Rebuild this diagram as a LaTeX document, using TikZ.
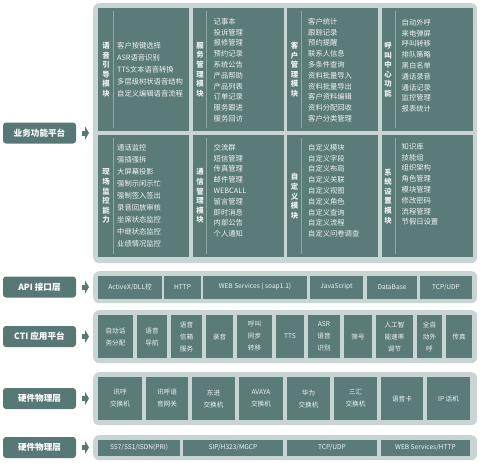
\documentclass[tikz,border=0pt]{standalone}
\usepackage{fontspec}
\setmainfont{Noto Sans CJK SC}
\usetikzlibrary{arrows.meta}
\definecolor{darkteal}{HTML}{5B7B79}
\definecolor{labelteal}{HTML}{587876}
\definecolor{panelgray}{HTML}{C9D5D3}
\definecolor{sepgray}{HTML}{92A8A6}
\definecolor{itemwhite}{HTML}{EEF3F2}

\begin{document}
\begin{tikzpicture}[x=1pt, y=-1pt,
  panel/.style={fill=panelgray, rounded corners=6pt, inner sep=0pt, anchor=north west},
  module/.style={fill=darkteal, minimum width=91pt, inner sep=0pt, anchor=north west},
  mtitle/.style={text=itemwhite, align=center, inner sep=0pt, font=\fontsize{7.4}{9.6}\selectfont\bfseries},
  items/.style={text=itemwhite, align=left, inner sep=0pt, anchor=north west, font=\fontsize{7.3}{10.8}\selectfont},
  wide/.style={font=\fontsize{7.3}{12}\selectfont},
  sepline/.style={sepgray, line width=0.6pt},
  layer/.style={fill=labelteal, rounded corners=3pt, minimum width=73pt, minimum height=21pt, text=white, font=\fontsize{8.6}{10}\selectfont\bfseries},
  cell/.style={fill=darkteal, text=itemwhite, align=center, inner sep=0pt, font=\fontsize{6.6}{12}\selectfont},
  feed/.style={labelteal, line width=5pt, -{Triangle[length=4pt, width=13pt]}, shorten <=6pt, shorten >=4pt}]
  \useasboundingbox (0,0) rectangle (480,463);

  % layer labels on the left
  \node[layer] (bizlab) at (39.5,133) {业务功能平台};
  \node[layer] (apilab) at (39.5,287) {API 接口层};
  \node[layer] (ctilab) at (39.5,336.5) {CTI 应用平台};
  \node[layer] (hwlab) at (39.5,398.5) {硬件物理层};
  \node[layer] (netlab) at (39.5,447.5) {硬件物理层};

  % grey panels
  \node[panel, minimum width=384pt, minimum height=260pt] (biz) at (93,3) {};
  \node[panel, minimum width=384pt, minimum height=32pt] (api) at (93,271) {};
  \node[panel, minimum width=384pt, minimum height=53pt] (cti) at (93,310) {};
  \node[panel, minimum width=384pt, minimum height=53pt] (hw) at (93,372) {};
  \node[panel, minimum width=384pt, minimum height=25pt] (net) at (93,435) {};

  \draw[feed] (bizlab.east) -- (bizlab.east -| biz.west);
  \draw[feed] (apilab.east) -- (apilab.east -| api.west);
  \draw[feed] (ctilab.east) -- (ctilab.east -| cti.west);
  \draw[feed] (hwlab.east) -- (hwlab.east -| hw.west);
  \draw[feed] (netlab.east) -- (netlab.east -| net.west);

  % business modules, first row
  \node[module, minimum height=123pt] (voice) at (98,8) {};
  \node[module, minimum height=123pt] (service) at (192.5,8) {};
  \node[module, minimum height=123pt] (customer) at (287,8) {};
  \node[module, minimum height=123pt] (callctr) at (381.5,8) {};
  % second row
  \node[module, minimum height=122pt] (monitor) at (98,135) {};
  \node[module, minimum height=122pt] (comm) at (192.5,135) {};
  \node[module, minimum height=122pt] (custom) at (287,135) {};
  \node[module, minimum height=122pt] (system) at (381.5,135) {};

  \draw[sepline] ([xshift=15pt,yshift=-3pt]voice.north west) -- ([xshift=15pt,yshift=3pt]voice.south west);
  \draw[sepline] ([xshift=14pt,yshift=-3pt]service.north west) -- ([xshift=14pt,yshift=3pt]service.south west);
  \draw[sepline] ([xshift=14pt,yshift=-3pt]customer.north west) -- ([xshift=14pt,yshift=3pt]customer.south west);
  \draw[sepline] ([xshift=14pt,yshift=-3pt]callctr.north west) -- ([xshift=14pt,yshift=3pt]callctr.south west);
  \draw[sepline] ([xshift=15pt,yshift=-3pt]monitor.north west) -- ([xshift=15pt,yshift=3pt]monitor.south west);
  \draw[sepline] ([xshift=14pt,yshift=-3pt]comm.north west) -- ([xshift=14pt,yshift=3pt]comm.south west);
  \draw[sepline] ([xshift=14pt,yshift=-3pt]custom.north west) -- ([xshift=14pt,yshift=3pt]custom.south west);
  \draw[sepline] ([xshift=14pt,yshift=-3pt]system.north west) -- ([xshift=14pt,yshift=3pt]system.south west);

  \node[mtitle] (voicet) at ([xshift=8pt]voice.west) {语\\音\\引\\导\\模\\块};
  \node[mtitle] (servicet) at ([xshift=7.5pt]service.west) {服\\务\\管\\理\\模\\块};
  \node[mtitle] (customert) at ([xshift=7.5pt]customer.west) {客\\户\\管\\理\\模\\块};
  \node[mtitle] (callctrt) at ([xshift=6.5pt]callctr.west) {呼\\叫\\中\\心\\功\\能};
  \node[mtitle] (monitort) at ([xshift=8pt]monitor.west) {现\\场\\监\\控\\能\\力};
  \node[mtitle] (commt) at ([xshift=7.5pt]comm.west) {通\\信\\管\\理\\模\\块};
  \node[mtitle] (customt) at ([xshift=7.5pt]custom.west) {自\\定\\义\\模\\块};
  \node[mtitle] (systemt) at ([xshift=6.5pt]system.west) {系\\统\\设\\置\\模\\块};

  \node[items, wide, anchor=west] (voicei) at ([xshift=19pt]voice.west)
    {客户按键选择\\ASR语音识别\\TTS文本语音转换\\多层级树状语音结构\\自定义编辑语音流程};
  \node[items] (servicei) at ([xshift=21pt,yshift=-10pt]service.north west)
    {记事本\\投诉管理\\报修管理\\预约记录\\系统公告\\产品帮助\\产品列表\\订单记录\\服务跟进\\服务回访};
  \node[items] (customeri) at ([xshift=21pt,yshift=-10pt]customer.north west)
    {客户统计\\跟踪记录\\预约提醒\\联系人信息\\多条件查询\\资料批量导入\\资料批量导出\\客户资料编辑\\资料分配回收\\客户分类管理};
  \node[items] (callctri) at ([xshift=20pt,yshift=-11pt]callctr.north west)
    {自动外呼\\来电弹屏\\呼叫转移\\排队策略\\黑白名单\\通话录音\\通话记录\\监控管理\\报表统计};
  \node[items, wide] (monitori) at ([xshift=19pt,yshift=-9pt]monitor.north west)
    {通话监控\\强插强拆\\大屏幕投影\\强制示闲示忙\\强制签入签出\\录音回放审核\\坐席状态监控\\中继状态监控\\业绩情况监控};
  \node[items] (commi) at ([xshift=21pt,yshift=-9pt]comm.north west)
    {交流群\\短信管理\\传真管理\\邮件管理\\WEBCALL\\留言管理\\即时消息\\内部公告\\个人通知};
  \node[items] (customi) at ([xshift=21pt,yshift=-9pt]custom.north west)
    {自定义模块\\自定义字段\\自定义布局\\自定义关联\\自定义视图\\自定义角色\\自定义查询\\自定义流程\\自定义问卷调查};
  \node[items] (systemi) at ([xshift=20pt,yshift=-8pt]system.north west)
    {知识库\\技能组\\组织架构\\角色管理\\模块管理\\修改密码\\流程管理\\节假日设置};

  % API row
  \node[cell, minimum width=64pt, minimum height=23pt] (activex) at (130,287) {ActiveX/DLL控};
  \node[cell, minimum width=37pt, minimum height=23pt] (http) at (182.5,287) {HTTP};
  \node[cell, minimum width=104pt, minimum height=23pt] (soap) at (255,287) {WEB Services ( soap1.1)};
  \node[cell, minimum width=53pt, minimum height=23pt] (jscript) at (336.5,287) {JavaScript};
  \node[cell, minimum width=50pt, minimum height=23pt] (database) at (392,287) {DataBase};
  \node[cell, minimum width=52pt, minimum height=23pt] (tcpudp) at (446,287) {TCP/UDP};

  % CTI row
  \node[cell, minimum width=35pt, minimum height=43pt] (acd) at (115.5,336.5) {自动话\\务分配};
  \node[cell, minimum width=30pt, minimum height=43pt] (ivr) at (152,336.5) {语音\\导航};
  \node[cell, minimum width=31pt, minimum height=43pt] (vmail) at (186.5,336.5) {语音\\信箱\\服务};
  \node[cell, minimum width=27pt, minimum height=43pt] (record) at (219.5,336.5) {录音};
  \node[cell, minimum width=35pt, minimum height=43pt] (transfer) at (254.5,336.5) {呼叫\\同步\\转移};
  \node[cell, minimum width=28pt, minimum height=43pt] (tts) at (290,336.5) {TTS};
  \node[cell, minimum width=32pt, minimum height=43pt] (asr) at (324,336.5) {ASR\\语音\\识别};
  \node[cell, minimum width=28pt, minimum height=43pt] (screen) at (358,336.5) {筛号};
  \node[cell, minimum width=37pt, minimum height=43pt] (pacing) at (394.5,336.5) {人工智\\能速率\\调节};
  \node[cell, minimum width=25pt, minimum height=43pt] (dialer) at (429.5,336.5) {全自\\动外\\呼};
  \node[cell, minimum width=26pt, minimum height=43pt] (fax) at (459,336.5) {传真};

  % hardware row
  \node[cell, minimum width=44pt, minimum height=43pt] (xhswitch) at (120,398.5) {讯呼\\交换机};
  \node[cell, minimum width=42pt, minimum height=43pt] (xhgate) at (167,398.5) {讯呼语\\音网关};
  \node[cell, minimum width=43pt, minimum height=43pt] (djswitch) at (213.5,398.5) {东进\\交换机};
  \node[cell, minimum width=44pt, minimum height=43pt] (avaya) at (261,398.5) {AVAYA\\交换机};
  \node[cell, minimum width=43pt, minimum height=43pt] (huawei) at (308.5,398.5) {华为\\交换机};
  \node[cell, minimum width=43pt, minimum height=43pt] (sanhui) at (355.5,398.5) {三汇\\交换机};
  \node[cell, minimum width=42pt, minimum height=43pt] (vcard) at (402,398.5) {语音卡};
  \node[cell, minimum width=43pt, minimum height=43pt] (ipphone) at (448.5,398.5) {IP 话机};

  % protocol row
  \node[cell, minimum width=82pt, minimum height=16pt] (ss7) at (139,447.5) {SS7/SS1/ISDN(PRI)};
  \node[cell, minimum width=100pt, minimum height=16pt] (sip) at (233,447.5) {SIP/H323/MGCP};
  \node[cell, minimum width=90pt, minimum height=16pt] (tcp) at (332,447.5) {TCP/UDP};
  \node[cell, minimum width=89pt, minimum height=16pt] (websvc) at (425.5,447.5) {WEB Services/HTTP};
\end{tikzpicture}
\end{document}
